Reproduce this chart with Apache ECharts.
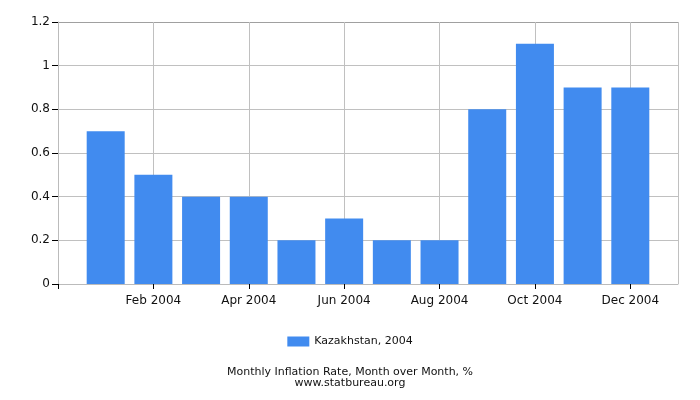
<!DOCTYPE html>
<html>
<head>
  <meta charset="UTF-8">
  <title>Kazakhstan inflation 2004</title>
  <script src="https://cdn.jsdelivr.net/npm/echarts@6/dist/echarts.min.js"></script>
</head>
<body style="margin: 0; background: #fff;">
  <div id="main" style="width: 700px; height: 400px;"></div>
  <script type="text/javascript">
    var months = ['Jan 2004', 'Feb 2004', 'Mar 2004', 'Apr 2004', 'May 2004', 'Jun 2004',
      'Jul 2004', 'Aug 2004', 'Sep 2004', 'Oct 2004', 'Nov 2004', 'Dec 2004'];
    var values = [0.7, 0.5, 0.4, 0.4, 0.2, 0.3, 0.2, 0.2, 0.8, 1.1, 0.9, 0.9];
    var yTicks = [0, 0.2, 0.4, 0.6, 0.8, 1, 1.2];

    // empty slot on both sides, like the original time axis
    var cats = [''].concat(months).concat(['']);
    var data = [null].concat(values).concat([null]);
    var last = cats.length - 1;

    var chart = echarts.init(document.getElementById('main'));
    var font = 'DejaVu Sans';

    // top grid line is a bit darker in the original
    var yGridColors = yTicks.map(function (t, i) { return i === yTicks.length - 1 ? '#a0a0a0' : '#c0c0c0'; });

    chart.setOption({
      animation: false,
      backgroundColor: '#ffffff',
      textStyle: { fontFamily: font },
      grid: { left: 58, right: 22, top: 22, bottom: 116, containLabel: false },
      legend: {
        bottom: 48,
        left: 'center',
        icon: 'rect',
        itemWidth: 22,
        itemHeight: 10,
        itemGap: 10,
        textStyle: { fontFamily: font, fontSize: 11, color: '#111' },
        data: ['Kazakhstan, 2004']
      },
      title: {
        text: 'Monthly Inflation Rate, Month over Month, %\nwww.statbureau.org',
        left: 'center',
        bottom: 6,
        textStyle: { fontFamily: font, fontSize: 11, fontWeight: 'normal', color: '#111', lineHeight: 11 }
      },
      xAxis: {
        type: 'category',
        data: cats,
        boundaryGap: false,
        axisLine: { show: true, lineStyle: { color: '#bbbbbb' } },
        axisTick: {
          show: true,
          length: 5,
          interval: function (i) { return i % 2 === 0 && i < last; },
          lineStyle: { color: '#000' }
        },
        axisLabel: {
          interval: function (i) { return i % 2 === 0 && i > 0 && i < last; },
          color: '#111',
          fontFamily: font,
          fontSize: 12,
          margin: 11
        },
        splitLine: {
          show: true,
          interval: function (i) { return i % 2 === 0 || i === last; },
          lineStyle: { color: '#c0c0c0' }
        }
      },
      yAxis: {
        type: 'value',
        min: yTicks[0],
        max: yTicks[yTicks.length - 1],
        interval: 0.2,
        axisLine: { show: true, lineStyle: { color: '#bbbbbb' } },
        axisTick: { show: true, inside: false, length: 6, lineStyle: { color: '#000', width: 1 } },
        axisLabel: {
          color: '#111',
          fontFamily: font,
          fontSize: 12,
          margin: 8,
          formatter: function (v) { return String(Math.round(v * 10) / 10); }
        },
        splitLine: { show: true, lineStyle: { color: yGridColors } }
      },
      series: [{
        name: 'Kazakhstan, 2004',
        type: 'bar',
        data: data,
        barWidth: 38,
        itemStyle: { color: '#418bef' }
      }]
    });
  </script>
</body>
</html>
